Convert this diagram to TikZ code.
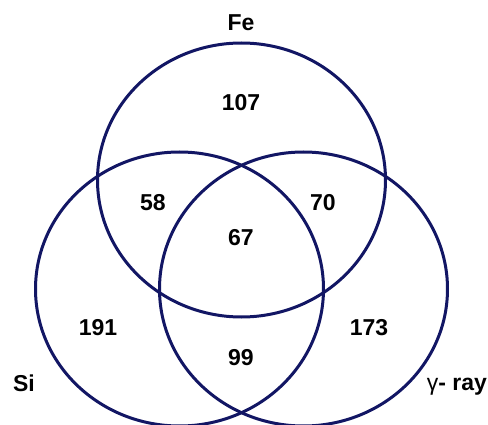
\documentclass[tikz,border=0pt]{standalone}
\usepackage{fontspec}
\setmainfont{Liberation Sans}
\usetikzlibrary{shapes.geometric}
\definecolor{vennblue}{RGB}{18,22,100}
\begin{document}
\begin{tikzpicture}[x=1pt,y=-1pt,
  venn/.style={ellipse, draw=vennblue, line width=3pt, minimum width=288pt, minimum height=274pt, inner sep=0pt},
  lbl/.style={font=\fontsize{23}{27}\selectfont\bfseries, inner sep=0pt, text=black}]
\useasboundingbox (0,0) rectangle (488,425);
\node[venn] (fe) at (241.5,180) {};
\node[venn] (si) at (179.5,289) {};
\node[venn] (gr) at (303.5,289) {};
\node[lbl] (feL) at (241,23) {Fe};
\node[lbl] (siL) at (24,383) {Si};
\node[lbl] (grL) at (457,387) {{\mdseries γ}- ray};
\node[lbl] (n107) at (241,103) {107};
\node[lbl] (n58) at (153,203) {58};
\node[lbl] (n70) at (323,203) {70};
\node[lbl] (n67) at (241,238) {67};
\node[lbl] (n191) at (98,328) {191};
\node[lbl] (n173) at (369,328) {173};
\node[lbl] (n99) at (241,358) {99};
\end{tikzpicture}
\end{document}
